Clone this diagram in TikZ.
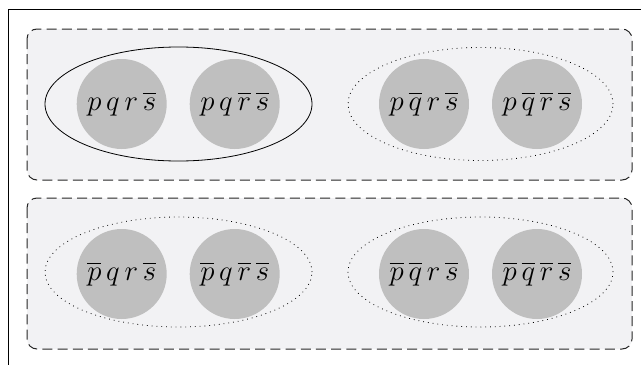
\documentclass[tikz,border=0pt]{standalone}
\usepackage{amsmath}
\usepackage{tikz}
\usetikzlibrary{positioning}
\definecolor{boxbg}{RGB}{242,242,244}

\begin{document}
\begin{tikzpicture}[x=0.5pt,y=-0.5pt,node distance=56.5pt,thin]
  \tikzstyle{minterm}=[circle,fill=gray!50,minimum size=45pt,inner sep=0pt,font=\fontsize{13.4}{16}\selectfont]
  \tikzstyle{group}=[draw=black!85,line width=0.5pt,dash pattern=on 5pt off 2.6pt,fill=boxbg,rounded corners=5pt]
  \tikzstyle{cover}=[draw,dotted]

  \useasboundingbox (0,0) rectangle (641,364);
  \clip (0,0) rectangle (641,364);
  \draw (8,9) rectangle (660,380);

  \draw[group] (27,29) rectangle (632,180);
  \draw[group] (27,198) rectangle (632,349);

  \draw (178.5,104) ellipse [x radius=66.75pt, y radius=28.5pt];
  \draw[cover] (480.5,104) ellipse [x radius=66.25pt, y radius=28.25pt];
  \draw[cover] (178.5,272) ellipse [x radius=66.75pt, y radius=27.5pt];
  \draw[cover] (480.5,272) ellipse [x radius=66.25pt, y radius=27.5pt];

  \node[minterm] (A) at (121.7,104) {$p\,q\,r\,\overline{s}$};
  \node[minterm] (B) [right of=A] {$p\,q\,\overline{r}\,\overline{s}$};
  \node[minterm] (C) at (424,104) {$p\,\overline{q}\,r\,\overline{s}$};
  \node[minterm] (D) [right of=C] {$p\,\overline{q}\,\overline{r}\,\overline{s}$};

  \node[minterm] (E) at (121.7,274) {$\overline{p}\,q\,r\,\overline{s}$};
  \node[minterm] (F) [right of=E] {$\overline{p}\,q\,\overline{r}\,\overline{s}$};
  \node[minterm] (G) at (424,274) {$\overline{p}\,\overline{q}\,r\,\overline{s}$};
  \node[minterm] (H) [right of=G] {$\overline{p}\,\overline{q}\,\overline{r}\,\overline{s}$};
\end{tikzpicture}
\end{document}
